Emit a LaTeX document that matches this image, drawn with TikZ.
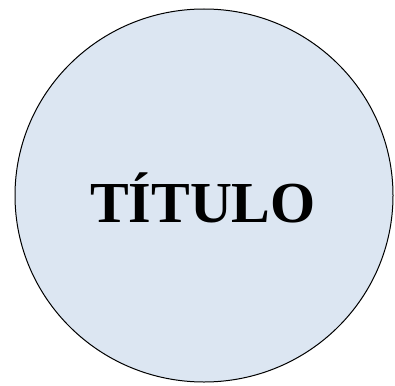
\documentclass[tikz,border=0pt]{standalone}
\usepackage{fontspec}
\setmainfont{Liberation Serif}
\definecolor{circfill}{HTML}{DCE6F2}
\tikzset{titlecircle/.style={draw=black, line width=1pt, fill=circfill}}
\begin{document}
\begin{tikzpicture}[x=1pt,y=1pt]
\useasboundingbox[fill=white] (0,0) rectangle (395,-385);
\draw[titlecircle] (204,-195.5) ellipse [x radius=189, y radius=186.5];
\node[font=\fontsize{58}{60}\selectfont\bfseries, anchor=base] (title) at (203,-222) {TÍTULO};
\end{tikzpicture}
\end{document}
